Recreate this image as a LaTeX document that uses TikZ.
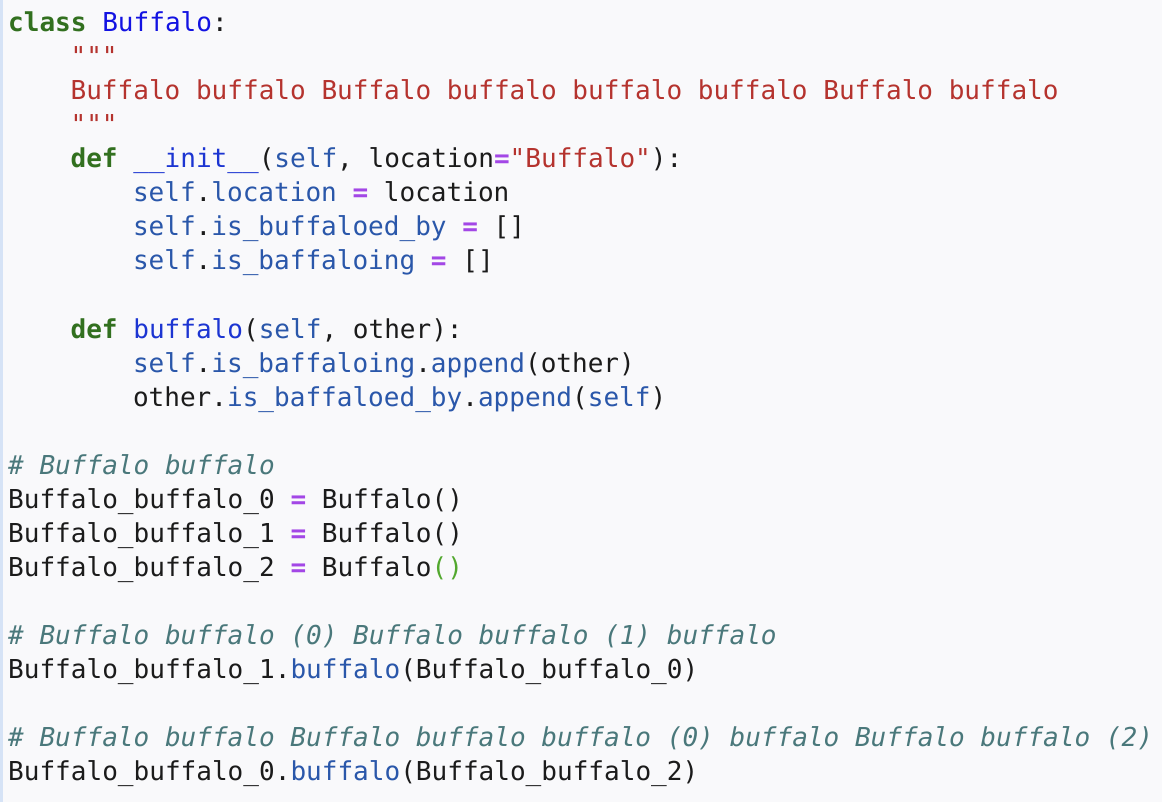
\documentclass[tikz,border=0pt]{standalone}
\usepackage{xcolor}
\usepackage{fontspec}
\setmonofont{DejaVu Sans Mono}
\definecolor{bgpaper}{HTML}{F9F9FB}
\definecolor{gutter}{HTML}{D6E3F6}
\definecolor{kwgreen}{HTML}{32701F}
\definecolor{clsblue}{HTML}{1212E2}
\definecolor{fnblue}{HTML}{1C35D2}
\definecolor{attrblue}{HTML}{2A57AA}
\definecolor{strred}{HTML}{B5332E}
\definecolor{eqpurple}{HTML}{A347E6}
\definecolor{cmtteal}{HTML}{4A787B}
\definecolor{ink}{HTML}{1B1B1B}
\definecolor{brcgreen}{HTML}{52A82E}
\newcommand{\kw}[1]{\textcolor{kwgreen}{\bfseries #1}}
\newcommand{\cls}[1]{\textcolor{clsblue}{#1}}
\newcommand{\fn}[1]{\textcolor{fnblue}{#1}}
\newcommand{\attr}[1]{\textcolor{attrblue}{#1}}
\newcommand{\strc}[1]{\textcolor{strred}{#1}}
\newcommand{\eqop}{\textcolor{eqpurple}{\bfseries =}}
\newcommand{\cmt}[1]{\textcolor{cmtteal}{\itshape #1}}
\newcommand{\brc}[1]{\textcolor{brcgreen}{#1}}

\begin{document}
\begin{tikzpicture}[x=1pt, y=-1pt]
    \tikzset{codeline/.style={anchor=base west, inner sep=0pt, text=ink,
        font=\ttfamily\fontsize{26.05pt}{34pt}\selectfont}}
    % page and gutter
    \fill[bgpaper] (0, 0) rectangle (1162, 802);
    \fill[gutter] (0, 0) rectangle (2.5, 802);
    \useasboundingbox (0, 0) rectangle (1162, 802);
    % class body
    \node[codeline] (classhead) at (8, {32+34*0}) {\kw{class} \cls{Buffalo}:};
    \node[codeline] (docopen) at (70.4, {32+34*1}) {\strc{"""}};
    \node[codeline] (doctext) at (70.4, {32+34*2}) {\strc{Buffalo buffalo Buffalo buffalo buffalo buffalo Buffalo buffalo}};
    \node[codeline] (docclose) at (70.4, {32+34*3}) {\strc{"""}};
    \node[codeline] (inithead) at (70.4, {32+34*4}) {\kw{def} \fn{\_\_init\_\_}(\attr{self}, location\eqop\strc{"Buffalo"}):};
    \node[codeline] (initloc) at (132.8, {32+34*5}) {\attr{self}.\attr{location} \eqop{} location};
    \node[codeline] (initby) at (132.8, {32+34*6}) {\attr{self}.\attr{is\_buffaloed\_by} \eqop{} []};
    \node[codeline] (initing) at (132.8, {32+34*7}) {\attr{self}.\attr{is\_baffaloing} \eqop{} []};
    \node[codeline] (methhead) at (70.4, {32+34*9}) {\kw{def} \fn{buffalo}(\attr{self}, other):};
    \node[codeline] (mething) at (132.8, {32+34*10}) {\attr{self}.\attr{is\_baffaloing}.\attr{append}(other)};
    \node[codeline] (methby) at (132.8, {32+34*11}) {other.\attr{is\_baffaloed\_by}.\attr{append}(\attr{self})};
    % module level
    \node[codeline] (cmtnew) at (8, {32+34*13}) {\cmt{\# Buffalo buffalo}};
    \node[codeline] (newzero) at (8, {32+34*14}) {Buffalo\_buffalo\_0 \eqop{} Buffalo()};
    \node[codeline] (newone) at (8, {32+34*15}) {Buffalo\_buffalo\_1 \eqop{} Buffalo()};
    \node[codeline] (newtwo) at (8, {32+34*16}) {Buffalo\_buffalo\_2 \eqop{} Buffalo\brc{()}};
    \node[codeline] (cmtfirst) at (8, {32+34*18}) {\cmt{\# Buffalo buffalo (0) Buffalo buffalo (1) buffalo}};
    \node[codeline] (callfirst) at (8, {32+34*19}) {Buffalo\_buffalo\_1.\attr{buffalo}(Buffalo\_buffalo\_0)};
    \node[codeline] (cmtsecond) at (8, {32+34*21}) {\cmt{\# Buffalo buffalo Buffalo buffalo buffalo (0) buffalo Buffalo buffalo (2)}};
    \node[codeline] (callsecond) at (8, {32+34*22}) {Buffalo\_buffalo\_0.\attr{buffalo}(Buffalo\_buffalo\_2)};
\end{tikzpicture}
\end{document}
